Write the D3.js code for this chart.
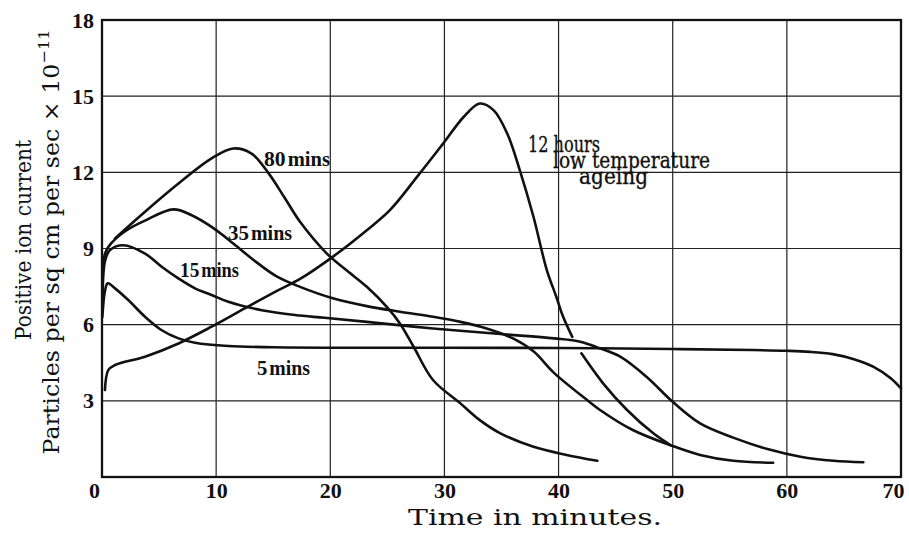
<!DOCTYPE html>
<html>
<head>
<meta charset="utf-8">
<script src="https://cdn.jsdelivr.net/npm/d3@7"></script>
<style>
  body { margin: 0; background: #fff; }
  svg { display: block; }
  text { font-family: "DejaVu Serif", "Liberation Serif", serif; fill: #111; }
</style>
</head>
<body>
<div class="drawer"></div>
<script>
// time axis (minutes) and current (x 10^-11)
const xTicks = [0, 10, 20, 30, 40, 50, 60, 70]
const yTicks = [3, 6, 9, 12, 15, 18]

const t5 = [0.03, 0.25, 0.5, 1.14, 2.3, 3.77, 5.2, 6.7, 8.15, 11.07, 15, 19.5, 30, 40, 50, 57, 60, 62, 64, 65.8, 67.6, 69.1, 70]
const v5 = [6.3, 7.3, 7.63, 7.43, 6.97, 6.31, 5.79, 5.46, 5.29, 5.16, 5.11, 5.09, 5.09, 5.08, 5.04, 5.0, 4.97, 4.93, 4.84, 4.65, 4.34, 3.89, 3.49]

const t15 = [0.05, 0.26, 0.7, 1.87, 3.77, 5.23, 6.69, 8.15, 9.6, 11.07, 14.0, 16.9, 19.5, 23.2, 29.0, 34.9, 39.6, 41.9, 43.6, 45.4, 47.7, 50, 52.4, 55.3, 58.3, 61.2, 64.1, 66.7]
const v15 = [6.6, 8.5, 8.94, 9.13, 8.8, 8.28, 7.82, 7.43, 7.17, 6.9, 6.57, 6.38, 6.27, 6.11, 5.85, 5.63, 5.46, 5.33, 5.07, 4.74, 3.95, 2.96, 2.11, 1.55, 1.1, 0.8, 0.64, 0.58]

const t35 = [0.05, 0.26, 0.8, 2.16, 3.77, 6.25, 7.86, 9.6, 11.5, 13.3, 15.3, 17.35, 20.3, 23.2, 26.1, 29.0, 31.4, 33.7, 36.05, 37.8, 39.6, 42.5, 43.6, 46.5, 50, 52.4, 55.3, 58.8]
const v35 = [7.0, 8.8, 9.2, 9.72, 10.1, 10.54, 10.31, 9.85, 9.2, 8.54, 7.9, 7.49, 7.03, 6.73, 6.51, 6.31, 6.11, 5.85, 5.45, 4.95, 4.1, 3.03, 2.65, 1.85, 1.22, 0.87, 0.64, 0.56]

const t80 = [1.14, 3.77, 6.7, 9.6, 11.5, 13.1, 14.6, 16.0, 17.35, 19.7, 21.4, 23.2, 24.95, 26.1, 27.3, 29.0, 31.4, 33.1, 34.9, 37.8, 40.7, 43.4]
const v80 = [9.4, 10.45, 11.56, 12.55, 12.94, 12.74, 11.96, 11.0, 10.05, 8.8, 8.15, 7.49, 6.7, 6.05, 5.13, 3.82, 2.9, 2.24, 1.72, 1.19, 0.87, 0.64]

// null = break in the printed line
const t12h = [0.26, 0.55, 1.14, 3.77, 6.7, 9.6, 12.5, 15.45, 17.35, 20.3, 23.2, 25.2, 27.6, 29.9, 31.7, 33.1, 34.3, 35.5, 36.6, 37.8, 38.97, 39.8, 40.4, 41.2, null, 42.0, 43.9, 46.0, 48.3, 49.8]
const v12h = [3.43, 4.21, 4.41, 4.74, 5.26, 5.92, 6.64, 7.36, 7.8, 8.7, 9.72, 10.5, 11.82, 13.14, 14.19, 14.71, 14.45, 13.53, 12.09, 10.25, 8.15, 7.1, 6.31, 5.52, null, 4.87, 3.69, 2.64, 1.72, 1.26]

{
  let width = 909, height = 533
  let svg = d3.select('.drawer').append('svg')
    .attr('width', width)
    .attr('height', height)

  let x = d3.scaleLinear().domain([0, 70]).range([102, 901])
  let y = d3.scaleLinear().domain([0, 18]).range([477, 20])

  let grid = svg.append('g').attr('stroke', '#222').attr('stroke-width', 1.2)
  grid.selectAll('line.v').data(xTicks.slice(1, -1))
    .enter().append('line')
    .attr('class', 'v')
    .attr('x1', d => x(d)).attr('x2', d => x(d))
    .attr('y1', y(0)).attr('y2', y(18))
  grid.selectAll('line.h').data(yTicks.slice(0, -1))
    .enter().append('line')
    .attr('class', 'h')
    .attr('x1', x(0)).attr('x2', x(70))
    .attr('y1', d => y(d)).attr('y2', d => y(d))

  // frame
  svg.append('rect')
    .attr('x', x(0)).attr('y', y(18))
    .attr('width', x(70) - x(0)).attr('height', y(0) - y(18))
    .attr('fill', 'none').attr('stroke', '#111').attr('stroke-width', 2.3)

  // axes, lines hidden, only labels kept
  let xAxis = svg.append('g')
    .attr('transform', `translate(0,${y(0)})`)
    .call(d3.axisBottom(x).tickValues(xTicks).tickSize(0).tickPadding(5))
  let yAxis = svg.append('g')
    .attr('transform', `translate(${x(0)},0)`)
    .call(d3.axisLeft(y).tickValues(yTicks).tickSize(0).tickPadding(8))
  ;[xAxis, yAxis].forEach(a => {
    a.select('.domain').remove()
    a.selectAll('text')
      .style('font-family', '"Liberation Serif", serif')
      .style('font-weight', 'bold')
      .style('font-size', '22px')
      .attr('fill', '#111')
  })
  xAxis.selectAll('text').attr('dy', '0.72em')
  xAxis.selectAll('.tick').filter(d => d === 0).select('text').attr('x', -8)
  xAxis.selectAll('.tick').filter(d => d === 70).select('text').attr('x', -8)

  // curves
  let line = d3.line()
    .defined(d => d[0] != null)
    .x(d => x(d[0]))
    .y(d => y(d[1]))
    .curve(d3.curveCatmullRom.alpha(0.5))
  let series = [[t5, v5], [t15, v15], [t35, v35], [t80, v80], [t12h, v12h]]
  svg.append('g').selectAll('path').data(series.map(s => d3.zip(s[0], s[1])))
    .enter().append('path')
    .attr('d', line)
    .attr('fill', 'none')
    .attr('stroke', '#111')
    .attr('stroke-width', 2.6)
    .attr('stroke-linejoin', 'round')
    .attr('stroke-linecap', 'round')

  // curve labels
  function label (num, px, py, len) {
    let t = svg.append('text')
      .attr('x', px).attr('y', py)
      .attr('textLength', len).attr('lengthAdjust', 'spacingAndGlyphs')
      .style('font-family', '"Liberation Serif", serif')
      .style('font-weight', 'bold')
    t.append('tspan').style('font-size', '21px').text(num)
    t.append('tspan').style('font-size', '20px').attr('dx', 2).text('mins')
  }
  label('80', 264, 166, 66)
  label('35', 228, 240, 64)
  label('15', 180, 277, 59)
  label('5', 257, 375, 53)

  let note = svg.append('g')
    .style('font-family', '"Liberation Serif", serif')
    .style('font-size', '22px')
    .attr('stroke', '#111').attr('stroke-width', 0.35)
  note.append('text').attr('x', 528).attr('y', 152)
    .attr('textLength', 72).attr('lengthAdjust', 'spacingAndGlyphs')
    .text('12 hours')
  note.append('text').attr('x', 553).attr('y', 168)
    .attr('textLength', 157).attr('lengthAdjust', 'spacingAndGlyphs')
    .text('low temperature')
  note.append('text').attr('x', 569).attr('y', 184)
    .attr('textLength', 79).attr('lengthAdjust', 'spacingAndGlyphs')
    .text('\u02D9ageing')

  // axis titles
  svg.append('text')
    .attr('x', 535).attr('y', 525)
    .attr('text-anchor', 'middle')
    .attr('textLength', 254).attr('lengthAdjust', 'spacingAndGlyphs')
    .style('font-size', '22px')
    .text('Time in minutes.')

  svg.append('text')
    .attr('transform', 'translate(31,240) rotate(-90)')
    .attr('text-anchor', 'middle')
    .attr('textLength', 200).attr('lengthAdjust', 'spacingAndGlyphs')
    .style('font-size', '22px')
    .text('Positive ion current')

  let t2 = svg.append('text')
    .attr('transform', 'translate(59,242) rotate(-90)')
    .attr('text-anchor', 'middle')
    .attr('textLength', 425).attr('lengthAdjust', 'spacingAndGlyphs')
    .style('font-size', '22px')
  t2.append('tspan').text('Particles per sq cm per sec \u00D7 10')
  t2.append('tspan').attr('dy', -10).style('font-size', '15px').text('\u221211')
}
</script>
</body>
</html>
